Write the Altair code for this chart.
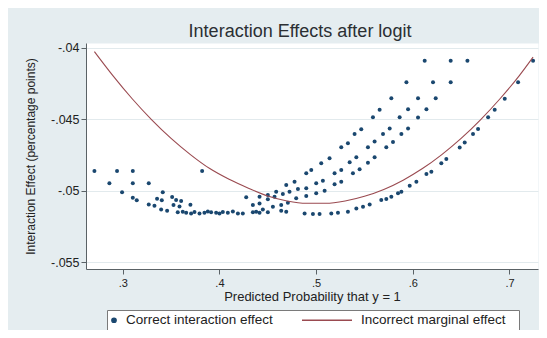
import altair as alt
import pandas as pd

# ---- data ----
correct_x = [
    0.2707, 0.2941, 0.3104, 0.3821, 0.2862, 0.3104, 0.3269, 0.2993, 0.3414,
    0.3104, 0.3145, 0.3355, 0.3404, 0.3511, 0.3552, 0.3604,
    0.3269, 0.3328, 0.3397, 0.3459, 0.3525, 0.3587, 0.3700,
    0.3569, 0.3621, 0.3656, 0.3707, 0.3742, 0.3794, 0.3845, 0.3880, 0.3914,
    0.3966, 0.4001, 0.4035, 0.4087, 0.4139, 0.4191, 0.4242,
    0.4346, 0.4415, 0.4501, 0.4639, 0.4691,
    # band A
    0.4277, 0.4415, 0.4501, 0.4587, 0.4691, 0.4777, 0.4898, 0.4950, 0.5053,
    0.5139, 0.5260, 0.5329, 0.5398, 0.5467, 0.5588, 0.5657, 0.5778, 0.5934, 0.6123,
    # band B
    0.4346, 0.4415, 0.4501, 0.4570, 0.4656, 0.4725, 0.4812, 0.4898, 0.5001,
    0.5070, 0.5191, 0.5260, 0.5347, 0.5416, 0.5536, 0.5605, 0.5692, 0.5761,
    0.5864, 0.5951, 0.6054, 0.6209, 0.6392,
    # band C
    0.4380, 0.4449, 0.4553, 0.4639, 0.4708, 0.4794, 0.4898, 0.5001, 0.5088,
    0.5191, 0.5260, 0.5381, 0.5450, 0.5536, 0.5605, 0.5726, 0.5795, 0.5882,
    0.5951, 0.6054, 0.6141, 0.6237, 0.6392, 0.6565,
    # band D
    0.4881, 0.4967, 0.5036, 0.5157, 0.5226, 0.5329, 0.5416, 0.5485, 0.5554,
    0.5674, 0.5726, 0.5778, 0.5847, 0.5882, 0.5968, 0.6037, 0.6141, 0.6192,
    0.6295, 0.6347, 0.6485, 0.6537, 0.6623, 0.6675, 0.6779, 0.6847, 0.6951,
    0.7089, 0.7244,
]
correct_y = [
    -0.04862, -0.04862, -0.04862, -0.04862, -0.04948, -0.04948, -0.04948, -0.05011, -0.05011,
    -0.05049, -0.05067, -0.05056, -0.05067, -0.05044, -0.05065, -0.05072,
    -0.05096, -0.05105, -0.05131, -0.05140, -0.05100, -0.05110, -0.05098,
    -0.05151, -0.05147, -0.05154, -0.05159, -0.05149, -0.05159, -0.05154, -0.05145, -0.05151,
    -0.05154, -0.05159, -0.05149, -0.05154, -0.05145, -0.05159, -0.05159,
    -0.05151, -0.05154, -0.05151, -0.05140, -0.05147,
    # band A
    -0.05046, -0.05042, -0.05030, -0.05007, -0.04960, -0.04937, -0.04878, -0.04855, -0.04808,
    -0.04773, -0.04696, -0.04668, -0.04603, -0.04570, -0.04486, -0.04434, -0.04353, -0.04241, -0.04091,
    # band B
    -0.05100, -0.05089, -0.05060, -0.05042, -0.05023, -0.05007, -0.04988, -0.04983, -0.04948,
    -0.04930, -0.04878, -0.04855, -0.04801, -0.04766, -0.04696, -0.04656, -0.04603, -0.04565,
    -0.04486, -0.04430, -0.04353, -0.04241, -0.04091,
    # band C
    -0.05147, -0.05131, -0.05112, -0.05100, -0.05084, -0.05053, -0.05037, -0.05018, -0.05000,
    -0.04955, -0.04937, -0.04878, -0.04850, -0.04804, -0.04766, -0.04696, -0.04659, -0.04603,
    -0.04565, -0.04488, -0.04430, -0.04353, -0.04241, -0.04091,
    # band D
    -0.05159, -0.05163, -0.05163, -0.05159, -0.05154, -0.05147, -0.05124, -0.05112, -0.05096,
    -0.05065, -0.05058, -0.05042, -0.05018, -0.05007, -0.04965, -0.04937, -0.04883, -0.04867,
    -0.04808, -0.04778, -0.04698, -0.04663, -0.04603, -0.04568, -0.04486, -0.04434, -0.04357,
    -0.04241, -0.04091,
]

marginal_x = [0.2707, 0.29, 0.31, 0.33, 0.35, 0.37, 0.39, 0.41, 0.43, 0.45, 0.47, 0.49,
              0.51, 0.53, 0.55, 0.57, 0.59, 0.61, 0.63, 0.65, 0.67, 0.69, 0.71, 0.7244]
marginal_y = [-0.04026, -0.04196, -0.04358, -0.04504, -0.04634, -0.04747, -0.04845, -0.04920,
              -0.04982, -0.05037, -0.05072, -0.05088, -0.05088, -0.05072, -0.05039, -0.04991,
              -0.04926, -0.04845, -0.04747, -0.04634, -0.04504, -0.04358, -0.04196, -0.04065]

x_ticks = [0.3, 0.4, 0.5, 0.6, 0.7]
y_ticks = [-0.055, -0.05, -0.045, -0.04]

series_names = ["Correct interaction effect", "Incorrect marginal effect"]
series_colors = ["#1a476f", "#9a4a50"]

pts = pd.DataFrame({"p": correct_x, "effect": correct_y, "series": series_names[0]})
crv = pd.DataFrame({"p": marginal_x, "effect": marginal_y, "series": series_names[1]})

FONT = "Liberation Sans"
AXC = "#5a6266"
TXT = "#222222"

xscale = alt.Scale(domain=[0.262, 0.7295], nice=False, zero=False)
yscale = alt.Scale(domain=[-0.05548, -0.03966], nice=False, zero=False)
cscale = alt.Scale(domain=series_names, range=series_colors)

LINE = series_names[1]
IS_LINE = f"datum.value === '{LINE}'"
# legend glyphs (unit = 6 px): a small dot, and a 50 px line
DOT_PATH = "M-0.133,0A0.367,0.367,0,1,1,-0.867,0A0.367,0.367,0,1,1,-0.133,0Z"
LINE_PATH = "M-1.167,0H7.167"

legend = alt.Legend(
    title=None, orient="none", legendX=21, legendY=267, direction="horizontal",
    fillColor="white", strokeColor="#7a7a7a", padding=3, columnPadding=26,
    labelFont=FONT, labelFontSize=13.5, labelColor=TXT, labelLimit=0,
    labelExpr=f"datum.label + ({IS_LINE} ? '\u2800' : '')",
    symbolSize=144, symbolStrokeWidth=1.3, symbolOffset=0, symbolOpacity=1,
    symbolType=alt.ExprRef(expr=f"{IS_LINE} ? '{LINE_PATH}' : '{DOT_PATH}'"),
    symbolStrokeColor=alt.ExprRef(expr=f"{IS_LINE} ? '{series_colors[1]}' : 'transparent'"),
    labelOffset=alt.ExprRef(expr=f"{IS_LINE} ? 45 : 2"),
)

xaxis = alt.Axis(
    values=x_ticks, labelExpr="slice(format(datum.value, '.1f'), 1)",
    title="Predicted Probability that y = 1", grid=False,
    tickSize=5, tickColor=AXC, domainColor=AXC, labelFont=FONT, labelFontSize=11,
    labelColor=TXT, labelPadding=3, titleFont=FONT, titleFontSize=13, titleColor=TXT,
    titleFontWeight="normal", titleY=27, titleBaseline="middle",
)
yaxis = alt.Axis(
    values=y_ticks, labelExpr="'-' + slice(format(-datum.value, '.3~f'), 1)",
    title="Interaction Effect (percentage points)", grid=True, gridColor="#E2EAED",
    tickSize=5, tickColor=AXC, domainColor=AXC, labelFont=FONT, labelFontSize=12.5,
    labelColor=TXT, labelPadding=2, titleFont=FONT, titleFontSize=12, titleColor=TXT,
    titleFontWeight="normal", titleX=-56, titleY=113, titleAngle=270,
    titleAlign="center", titleBaseline="middle",
)

points = alt.Chart(pts).mark_circle(size=16, opacity=1).encode(
    x=alt.X("p:Q", scale=xscale, axis=xaxis),
    y=alt.Y("effect:Q", scale=yscale, axis=yaxis),
    color=alt.Color("series:N", scale=cscale, legend=legend),
)

line = alt.Chart(crv).mark_line(strokeWidth=1.1, interpolate="monotone").encode(
    x=alt.X("p:Q", scale=xscale),
    y=alt.Y("effect:Q", scale=yscale),
    color=alt.Color("series:N", scale=cscale, legend=None),
)

chart = alt.layer(points, line).properties(
    width=452, height=226,
    title=alt.Title("Interaction Effects after logit", font=FONT, fontSize=18,
                    fontWeight="normal", color="#2b2f33", anchor="middle",
                    frame="group", dx=-12, offset=1),
    autosize=alt.AutoSizeParams(type="none"),
    padding={"left": 78, "top": 35, "right": 1, "bottom": 61},
    background="#E5EDF0",
).configure_view(fill="white", stroke="transparent")

chart.save("out.html", embed_options={"renderer": "svg", "actions": False})
